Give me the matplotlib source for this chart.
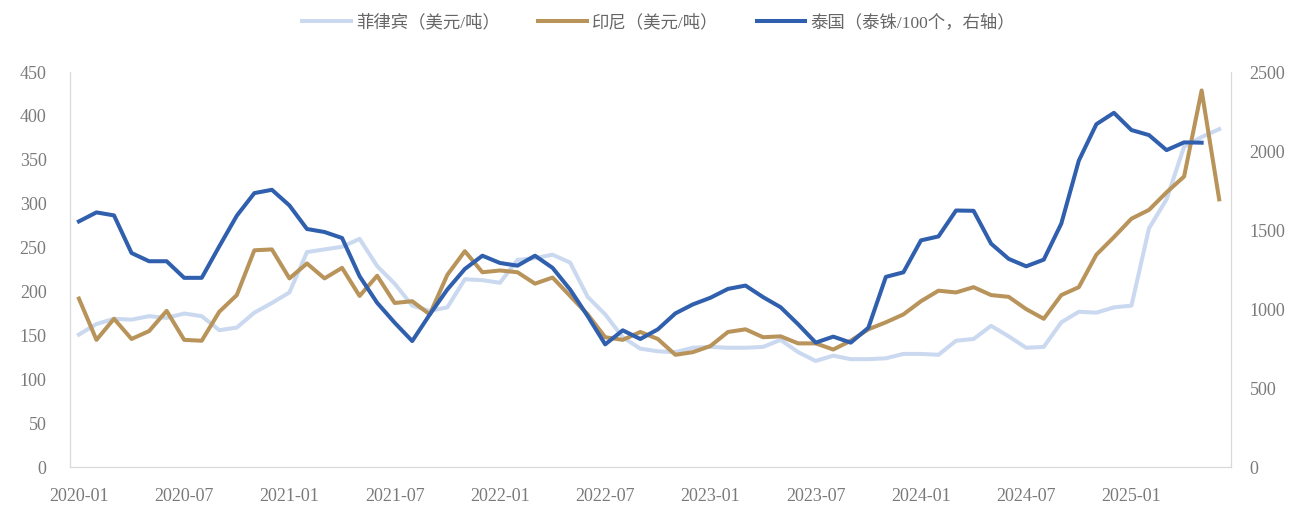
import matplotlib.pyplot as plt
import numpy as np

# 月度数据 2020-01 ~ 2025-06
months = [f"{y}-{m:02d}" for y in range(2020, 2026) for m in range(1, 13)][:66]

philippines = [151, 163, 169, 168, 172, 170, 175, 172, 156, 159, 176, 187,
               199, 245, 248, 251, 260, 229, 209, 184, 178, 182, 214, 213,
               210, 236, 238, 242, 233, 194, 174, 148, 135, 132, 131, 136,
               137, 136, 136, 137, 145, 131, 121, 127, 123, 123, 124, 129,
               129, 128, 144, 146, 161, 149, 136, 137, 165, 177, 176, 182,
               184, 272, 305, 365, 376, 385]

indonesia = [192, 145, 169, 146, 155, 178, 145, 144, 177, 196, 247, 248,
             215, 232, 215, 227, 195, 218, 187, 189, 174, 219, 246, 222,
             224, 222, 209, 216, 195, 174, 148, 145, 154, 146, 128, 131,
             138, 154, 157, 148, 149, 141, 141, 134, 144, 157, 165, 174,
             189, 201, 199, 205, 196, 194, 180, 169, 196, 205, 242, 262,
             283, 293, 313, 331, 429, 305]

thailand = [1555, 1612, 1593, 1355, 1303, 1303, 1198, 1198, 1397, 1591, 1734, 1755,
            1656, 1507, 1488, 1450, 1208, 1040, 914, 798, 966, 1124, 1254, 1338,
            1292, 1275, 1338, 1261, 1124, 956, 777, 866, 811, 872, 973, 1030,
            1072, 1128, 1149, 1076, 1012, 904, 788, 826, 788, 882, 1204, 1233,
            1435, 1460, 1624, 1622, 1414, 1318, 1271, 1313, 1541, 1940, 2170, 2242,
            2133, 2101, 2006, 2055, 2053]

x = np.arange(len(months))
tick_pos = x[::6]
tick_labels = [months[i] for i in tick_pos]

fonts = ['Liberation Serif', 'Noto Sans CJK SC']
plt.rcParams['font.family'] = fonts

fig = plt.figure(figsize=(12.99, 5.22), dpi=100)
ax = fig.add_axes([0.054, 0.105, 0.894, 0.757])
ax2 = ax.twinx()

l1, = ax.plot(x, philippines, color='#cad9ef', lw=2.9, label='菲律宾（美元/吨）')
l2, = ax.plot(x, indonesia, color='#b8935a', lw=2.9, label='印尼（美元/吨）')
l3, = ax2.plot(x[:len(thailand)], thailand, color='#2f5fad', lw=2.9,
               label='泰国（泰铢/100个，右轴）')

ax.set_ylim(0, 450)
ax.set_yticks(range(0, 451, 50))
ax2.set_ylim(0, 2500)
ax2.set_yticks(range(0, 2501, 500))
ax.set_xlim(-0.5, 65.7)
ax.set_xticks(tick_pos)
ax.set_xticklabels(tick_labels)

for a in (ax, ax2):
    a.tick_params(length=0, labelsize=13, labelcolor='#7a7a7a')
    for s in a.spines.values():
        s.set_color('#d9d9d9')
    a.spines['top'].set_visible(False)
ax.tick_params(axis='y', pad=17)
ax.tick_params(axis='x', pad=15)
ax2.tick_params(axis='y', pad=13)

fig.legend(handles=[l1, l2, l3], loc='center', bbox_to_anchor=(0.507, 0.957),
           ncol=3, frameon=False, fontsize=12.5, handlelength=2.8,
           columnspacing=2.2, handletextpad=0.3, labelcolor='#666666')

fig.savefig('out.png', dpi=100)
